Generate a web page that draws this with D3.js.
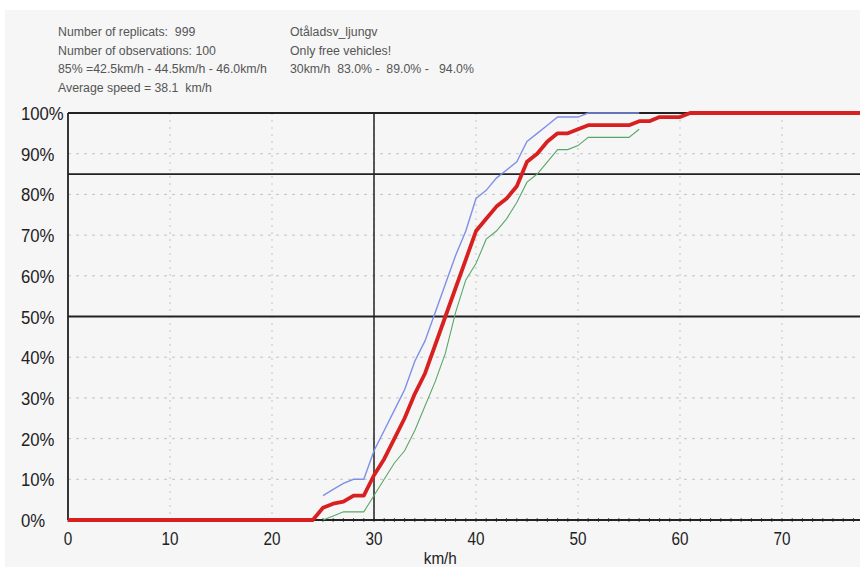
<!DOCTYPE html>
<html><head><meta charset="utf-8">
<script src="https://cdn.jsdelivr.net/npm/d3@7"></script>
<style>html,body{margin:0;padding:0;background:#fff}svg{display:block}text{font-family:"Liberation Sans",Arial,sans-serif}</style>
</head><body><svg id="c" width="860" height="567"></svg>
<script>
const xTicks = [0,10,20,30,40,50,60,70,80];
const xTickLabels = [0,10,20,30,40,50,60,70];
const yTicks = [0,10,20,30,40,50,60,70,80,90,100];
const yTickLabels = ["0%","10%","20%","30%","40%","50%","60%","70%","80%","90%","100%"];
const refLinesY = [50,85];
const refLineX = 30;

const redSpeed = [0,24,25,26,27,28,29,30,31,32,33,34,35,36,37,38,39,40,41,42,43,44,45,46,47,48,49,50,51,52,53,54,55,56,57,58,59,60,61,80];
const redPct   = [0,0,3,4,4.5,6,6,11,15,20,25,31,36,43,50,57,64,71,74,77,79,82,88,90,93,95,95,96,97,97,97,97,97,98,98,99,99,99,100,100];
const blueSpeed = [25,26,27,28,29,30,31,32,33,34,35,36,37,38,39,40,41,42,43,44,45,46,47,48,49,50,51,52,53,54,55,56];
const bluePct   = [6,7.5,9,10,10,17,22,27,32,39,44,51,58,65,71,79,81,84,86,88,93,95,97,99,99,99,100,100,100,100,100,100];
const greenSpeed = [25,26,27,28,29,30,31,32,33,34,35,36,37,38,39,40,41,42,43,44,45,46,47,48,49,50,51,52,53,54,55,56];
const greenPct   = [0,1,2,2,2,6,10,14,17,22,28,34,41,51,59,63,69,71,74,78,83,85,88,91,91,92,94,94,94,94,94,96];

const headerLeft = ["Number of replicats:  999","Number of observations: 100","85% =42.5km/h - 44.5km/h - 46.0km/h","Average speed = 38.1  km/h"];
const headerRight = ["Otåladsv_ljungv","Only free vehicles!","30km/h  83.0% -  89.0% -   94.0%"];
const xTitle = "km/h";

const svg = d3.select("#c");
svg.append("rect").attr("x",5).attr("y",10).attr("width",855).attr("height",557).attr("fill","#f6f6f6");

const x = d3.scaleLinear().domain([0,80]).range([68,884]);
const y = d3.scaleLinear().domain([0,100]).range([520,113]);

// grid
const g = svg.append("g");
g.selectAll(".vg").data(xTicks.filter(d=>d>0)).join("line")
  .attr("x1",d=>x(d)).attr("x2",d=>x(d)).attr("y1",y(100)).attr("y2",y(0))
  .attr("stroke","#c4c4c4").attr("stroke-width",1).attr("stroke-dasharray","2,5");
g.selectAll(".hg").data(yTicks.filter(d=>d>0&&d<100)).join("line")
  .attr("x1",x(0)).attr("x2",860).attr("y1",d=>y(d)).attr("y2",d=>y(d))
  .attr("stroke","#c4c4c4").attr("stroke-width",1).attr("stroke-dasharray","3,5");

// small ticks on bottom axis
g.selectAll(".mt").data(d3.range(0,81,1)).join("line")
  .attr("x1",d=>x(d)).attr("x2",d=>x(d)).attr("y1",y(0)-2).attr("y2",y(0)+2)
  .attr("stroke","#555").attr("stroke-width",1);

// black frame & reference lines
const blk = "#222";
svg.append("line").attr("x1",x(0)).attr("x2",860).attr("y1",y(100)).attr("y2",y(100)).attr("stroke",blk).attr("stroke-width",1.8);
svg.append("line").attr("x1",x(0)).attr("x2",860).attr("y1",y(0)).attr("y2",y(0)).attr("stroke",blk).attr("stroke-width",1.8);
svg.append("line").attr("x1",x(0)).attr("x2",x(0)).attr("y1",y(100)).attr("y2",y(0)).attr("stroke",blk).attr("stroke-width",1.8);
svg.append("line").attr("x1",x(refLineX)).attr("x2",x(refLineX)).attr("y1",y(100)).attr("y2",y(0)).attr("stroke",blk).attr("stroke-width",1.5);
svg.selectAll(".rl").data(refLinesY).join("line")
  .attr("x1",x(0)).attr("x2",860).attr("y1",d=>y(d)).attr("y2",d=>y(d)).attr("stroke",blk).attr("stroke-width",1.8);

// curves
const line = d3.line().x(d=>x(d[0])).y(d=>y(d[1]));
svg.append("path").datum(d3.zip(greenSpeed,greenPct)).attr("d",line).attr("fill","none").attr("stroke","#5aa66a").attr("stroke-width",1.1);
svg.append("path").datum(d3.zip(blueSpeed,bluePct)).attr("d",line).attr("fill","none").attr("stroke","#7f8fe8").attr("stroke-width",1.4);
svg.append("path").datum(d3.zip(redSpeed,redPct)).attr("d",line).attr("fill","none").attr("stroke","#d82020").attr("stroke-width",3.8).attr("stroke-linejoin","round");

// y labels
svg.selectAll(".yl").data(yTicks).join("text")
  .attr("transform",d=>`translate(21,${y(d)+7}) scale(0.88,1)`)
  .attr("font-size",19).attr("fill","#222").text((d,i)=>yTickLabels[i]);
// x labels
svg.selectAll(".xl").data(xTickLabels).join("text")
  .attr("transform",d=>`translate(${x(d)},545) scale(0.85,1)`)
  .attr("text-anchor","middle").attr("font-size",18).attr("fill","#222").text(d=>d);
svg.append("text").attr("transform",`translate(${x(36.5)},564) scale(0.9,1)`).attr("text-anchor","middle")
  .attr("font-size",17).attr("fill","#222").text(xTitle);

// header
const hb = [36,54.5,73,91.5];
svg.selectAll(".hl").data(headerLeft).join("text").attr("x",58).attr("y",(d,i)=>hb[i])
  .attr("font-size",12.3).attr("fill","#555").style("white-space","pre").text(d=>d);
svg.selectAll(".hr").data(headerRight).join("text").attr("x",290).attr("y",(d,i)=>hb[i])
  .attr("font-size",12.3).attr("fill","#555").style("white-space","pre").text(d=>d);
</script></body></html>
